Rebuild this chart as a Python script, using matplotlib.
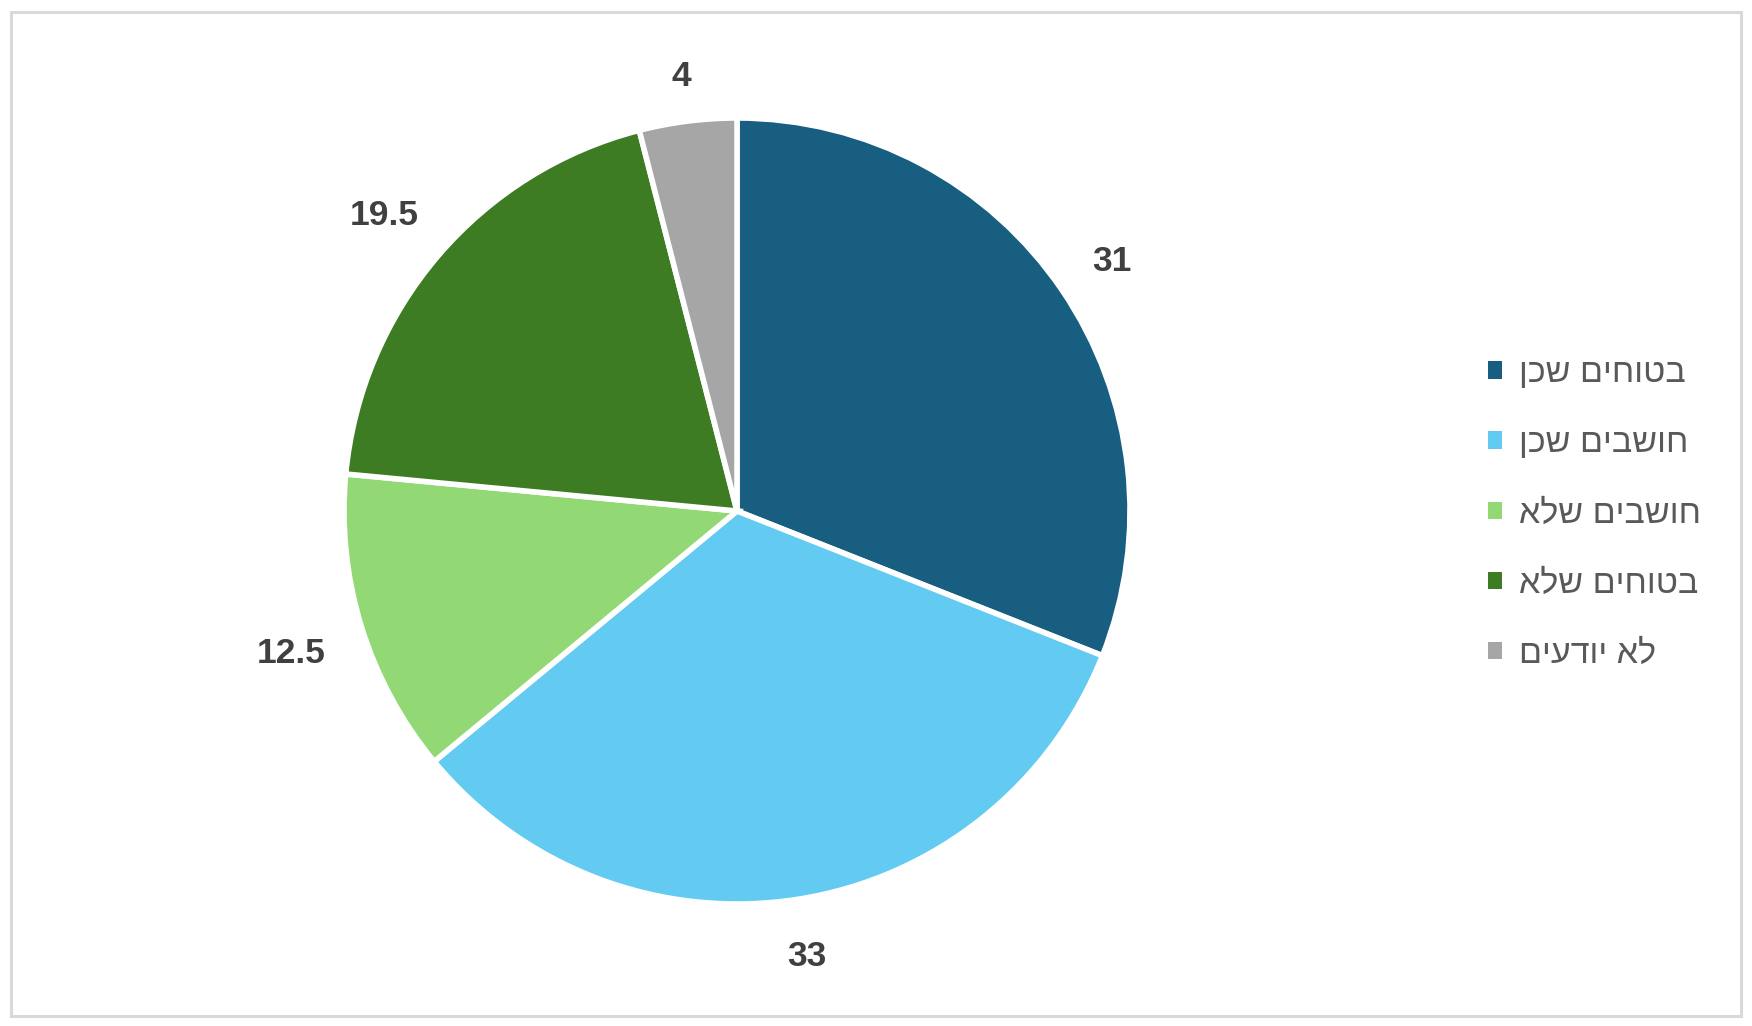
import numpy as np
import matplotlib.pyplot as plt
from matplotlib.patches import Rectangle
from matplotlib.transforms import offset_copy

plt.rcParams['font.family'] = ['Liberation Sans', 'DejaVu Sans']

# data
categories = ["בטוחים שכן", "חושבים שכן", "חושבים שלא", "בטוחים שלא", "לא יודעים"]
values = [31, 33, 12.5, 19.5, 4]
value_labels = ["31", "33", "12.5", "19.5", "4"]
colors = ["#175E81", "#63CAF2", "#92D975", "#3D7C23", "#A6A6A6"]

W, H, DPI = 1752, 1026, 100
R_PX = 393
CX, CY = 737, 511  # pie centre in pixels (from top-left)
GAP_PX = 37        # space between pie edge and label box

fig = plt.figure(figsize=(W / DPI, H / DPI), dpi=DPI)
ax = fig.add_axes([0, 0, 1, 1])

wedges, _ = ax.pie(
    values,
    colors=colors,
    startangle=90,
    counterclock=False,
    radius=1,
    wedgeprops=dict(edgecolor="white", linewidth=4),
)

ax.set_xlim(-CX / R_PX, (W - CX) / R_PX)
ax.set_ylim(-(H - CY) / R_PX, CY / R_PX)
ax.set_aspect("equal")
ax.axis("off")

# value labels outside the slices, box kept a fixed gap from the edge
renderer = fig.canvas.get_renderer()
lab_tr = offset_copy(ax.transData, fig=fig, x=0, y=-4, units="points")
for w, lab in zip(wedges, value_labels):
    ang = np.deg2rad((w.theta1 + w.theta2) / 2)
    c, s = np.cos(ang), np.sin(ang)
    t = ax.text(0, 0, lab, ha="center", va="center", transform=lab_tr,
                fontsize=25.5, fontweight="bold", color="#404040")
    bb = t.get_window_extent(renderer)
    hw, hh = bb.width / 2, bb.height / 2 * 0.75
    d = (R_PX + GAP_PX + hw * abs(c) + hh * abs(s)) / R_PX
    t.set_position((d * c, d * s))

# legend: Hebrew reversed for right-to-left display
fs = 24.5
leg = ax.legend(
    wedges,
    [c[::-1] for c in categories],
    loc="center left",
    bbox_to_anchor=(1488 / W, 1 - 514 / H),
    bbox_transform=fig.transFigure,
    frameon=False,
    fontsize=fs,
    handlelength=10.1 / fs,
    handleheight=10.1 / fs,
    handletextpad=0.5,
    labelspacing=1.15,
    borderaxespad=0,
    borderpad=0,
)
for t in leg.get_texts():
    t.set_color("#595959")
for h in leg.legend_handles:
    h.set_linewidth(0)

# outer border
fig.patches.append(Rectangle((10.5 / W, 10.5 / H), (W - 22) / W, (H - 22) / H,
                             transform=fig.transFigure, fill=False,
                             edgecolor="#D9D9D9", linewidth=2.2))

fig.savefig("out.png", dpi=DPI)
